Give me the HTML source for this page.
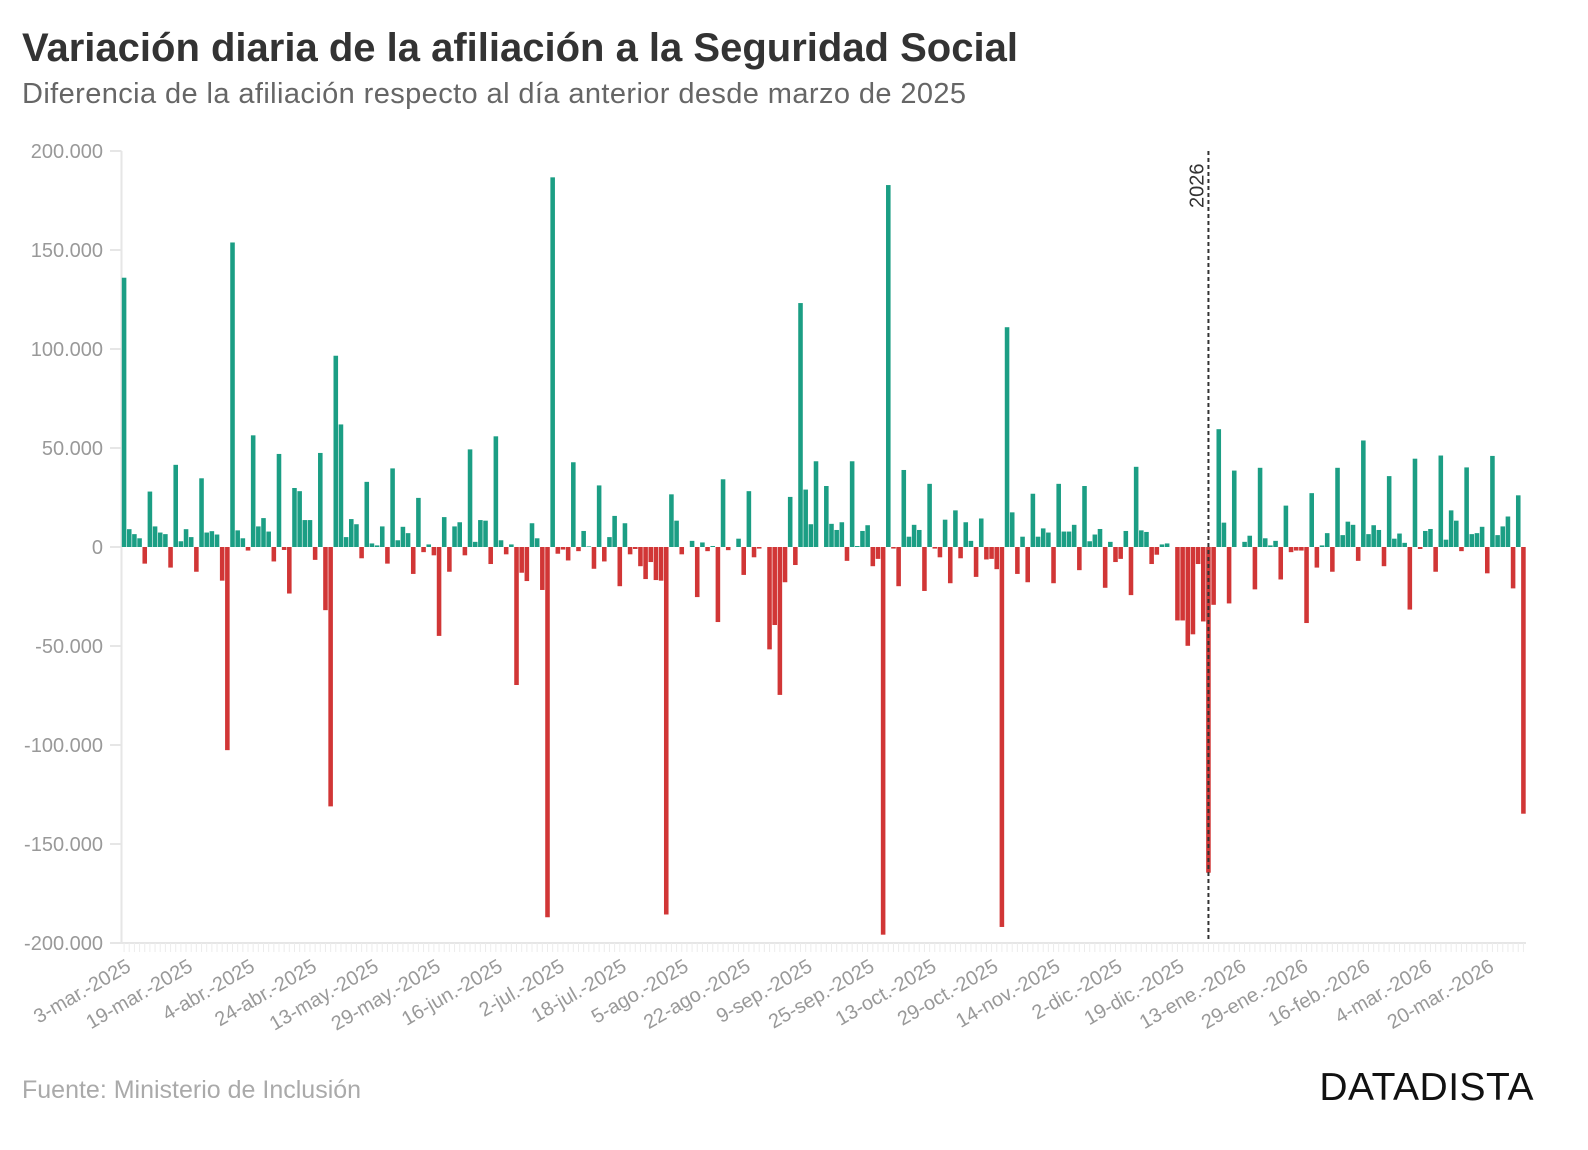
<!DOCTYPE html>
<html><head><meta charset="utf-8"><style>
body{margin:0;background:#fff;width:1588px;height:1150px;overflow:hidden;font-family:"Liberation Sans",sans-serif}
#title{position:absolute;left:22px;top:26px;font-size:40px;font-weight:bold;color:#333;letter-spacing:0px;white-space:nowrap}
#subtitle{position:absolute;left:22px;top:78px;font-size:29px;color:#666;white-space:nowrap;letter-spacing:0.4px}
#source{position:absolute;left:22px;top:1076px;font-size:25px;color:#aaa;white-space:nowrap}
#brand{position:absolute;right:54px;top:1066px;font-size:39px;color:#111;letter-spacing:0.5px}
svg{position:absolute;left:0;top:0}
</style></head><body>
<div id="title">Variación diaria de la afiliación a la Seguridad Social</div>
<div id="subtitle">Diferencia de la afiliación respecto al día anterior desde marzo de 2025</div>
<svg id="chart" width="1588" height="1150"></svg>
<div id="source">Fuente: Ministerio de Inclusión</div>
<div id="brand">DATADISTA</div>
<script>
// values in thousands, one per working day
const values = [136,9,6.5,4.4,-8.4,28,10.4,7.3,6.5,-10.4,41.5,2.9,9,5,-12.5,34.7,7.3,8,6.3,-17,
-102.6,153.8,8.4,4.4,-1.8,56.4,10.4,14.6,7.8,-7.3,47,-1.5,-23.5,29.8,28.2,13.6,13.6,-6.5,47.5,-31.9,
-131,96.6,61.9,5,14.1,11.5,-5.7,32.9,1.8,0.8,10.4,-8.4,39.7,3.4,10.2,7,-13.6,24.8,-2.6,1.3,
-4.2,-44.9,15.1,-12.5,10.4,12.5,-4.2,49.3,2.6,13.6,13.3,-8.6,55.9,3.4,-3.7,1.3,-69.7,-13,-17.2,12,
4.4,-21.7,-187,186.7,-3.4,-1.3,-6.8,42.8,-2.1,8.1,0.3,-11,31.1,-7.3,5,15.7,-19.8,12,-3.7,-1,
-9.7,-16.2,-7.6,-16.7,-17,-185.6,26.6,13.3,-3.7,0,3.1,-25.3,2.3,-2.1,0.5,-37.9,34.2,-1.6,0,4.2,
-14.1,28.2,-5.2,-0.8,0,-51.7,-39.4,-74.7,-17.8,25.3,-9.1,123.2,29,11.5,43.3,0,30.8,11.7,8.6,12.5,
-7,43.3,0.5,8.1,11,-9.7,-6,-195.8,182.8,-0.8,-19.8,38.9,5.2,11.2,8.6,-22.2,31.9,-0.8,-5.2,13.8,
-18.3,18.5,-5.7,12.5,3.1,-15.1,14.4,-6.3,-6,-11.2,-191.9,111,17.5,-13.6,5.2,-17.8,26.9,5.2,9.4,7.3,
-18.3,31.9,7.8,7.8,11.2,-11.7,30.8,2.9,6.3,9.1,-20.6,2.6,-7.6,-6,8.1,-24.3,40.5,8.4,7.6,-8.6,
-3.9,1.3,1.8,0,-37.1,-37.1,-49.9,-44.1,-8.6,-37.6,-164.5,-29.2,59.5,12.3,-28.5,38.6,0,2.6,5.7,-21.4,
40,4.4,0.8,3.1,-16.4,20.9,-2.6,-1.8,-1.8,-38.4,27.2,-10.4,0.8,7,-12.5,40,6,12.8,11.2,-7,
53.8,6.5,11,8.6,-9.7,35.8,4.2,6.8,2.1,-31.6,44.6,-1,8.1,9.1,-12.5,46.2,3.7,18.5,13.3,-2.1,
40.2,6.5,7,10.2,-13.3,46,6,10.4,15.4,-20.9,26.1,-134.7];
const yTicks = [200,150,100,50,0,-50,-100,-150,-200];
const yTickLabels = ["200.000","150.000","100.000","50.000","0","-50.000","-100.000","-150.000","-200.000"];
const xLabelIdx = [0,12,24,36,48,60,72,84,96,108,120,132,144,156,168,180,192,204,216,228,240,252,264];
const xLabels = ["3-mar.-2025","19-mar.-2025","4-abr.-2025","24-abr.-2025","13-may.-2025","29-may.-2025","16-jun.-2025","2-jul.-2025","18-jul.-2025","5-ago.-2025","22-ago.-2025","9-sep.-2025","25-sep.-2025","13-oct.-2025","29-oct.-2025","14-nov.-2025","2-dic.-2025","19-dic.-2025","13-ene.-2026","29-ene.-2026","16-feb.-2026","4-mar.-2026","20-mar.-2026"];
const markerIdx = 210;
const markerLabel = "2026";

const NS="http://www.w3.org/2000/svg";
const svg=document.getElementById('chart');
const X0=121.5,X1=1526,Y0=151,Y1=943;
const band=(X1-X0)/values.length;
const y=v=>Y0+(200-v)*(Y1-Y0)/400;
const x=i=>X0+i*band;
function mk(t,a){const e=document.createElementNS(NS,t);for(const k in a)e.setAttribute(k,a[k]);svg.appendChild(e);return e;}
let ax=mk('line',{x1:X0,y1:Y0,x2:X0,y2:Y1,stroke:'#e6e6e6','stroke-width':2});


yTicks.forEach((v,k)=>{
  const t=mk('line',{x1:110,x2:X0,y1:y(v),y2:y(v),stroke:'#e6e6e6','stroke-width':2});
  
  
  const l=mk('text',{x:103,y:y(v)+7,'text-anchor':'end','font-size':20,fill:'#999','font-family':'Liberation Sans, sans-serif'});
  l.textContent=yTickLabels[k];
  
  
});
let xa=mk('line',{x1:X0,x2:X1,y1:Y1,y2:Y1,stroke:'#e6e6e6','stroke-width':2});


values.forEach((v,i)=>{
  const t=mk('line',{x1:x(i+0.5),x2:x(i+0.5),y1:Y1,y2:Y1+9,stroke:'#ececec','stroke-width':1});
  
  
});
values.forEach((v,i)=>{
  if(v===0)return;
  const r=mk('rect',{x:x(i)+0.3,width:band-0.6,y:Math.min(y(v),y(0)),height:Math.abs(y(v)-y(0)),fill:v>0?'#1b9e84':'#d13636'});
  
  
});
const mx=x(markerIdx+0.5);
let ml=mk('line',{x1:mx,x2:mx,y1:Y0,y2:Y1-4,stroke:'#333','stroke-width':2,'stroke-dasharray':'4,3'});


let mt=mk('text',{x:0,y:0,'font-size':20,fill:'#333','font-family':'Liberation Sans, sans-serif',transform:`translate(${mx-5},208) rotate(-90)`});
mt.textContent=markerLabel;


xLabelIdx.forEach((idx,k)=>{
  const cx=x(idx+0.5)+8;
  const l=mk('text',{x:0,y:0,'text-anchor':'end','font-size':20,fill:'#999','font-family':'Liberation Sans, sans-serif',transform:`translate(${cx},970) rotate(-30)`});
  l.textContent=xLabels[k];
  
  
});
</script>
</body></html>
